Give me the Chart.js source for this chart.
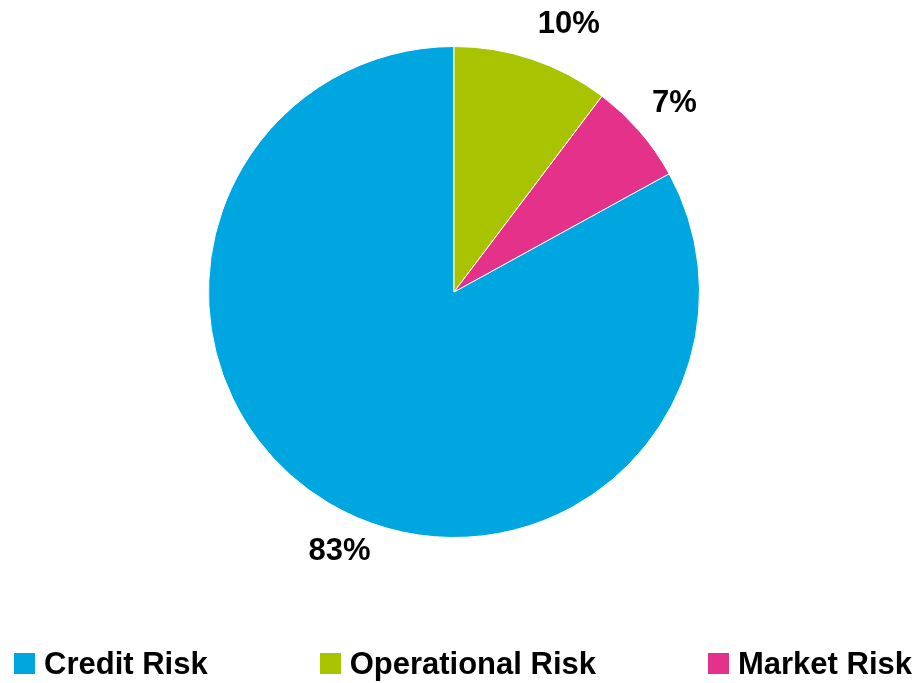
<!DOCTYPE html>
<html>
<head>
<meta charset="utf-8">
<script src="https://cdn.jsdelivr.net/npm/chart.js@4"></script>
<style>
  html, body { margin:0; padding:0; background:#fff; }
  #wrap { position:relative; width:919px; height:683px; overflow:hidden; }
  #c { position:absolute; left:0; top:0; }
  .lbl { position:absolute; font: bold 31px "Liberation Sans", Arial, sans-serif; color:#000; white-space:nowrap; transform:translate(-50%,-50%); line-height:1; }
  #legend { position:absolute; left:14px; right:7px; top:647px; height:32px; display:flex; justify-content:space-between; align-items:center; }
  .li { display:flex; align-items:center; font: bold 31px "Liberation Sans", Arial, sans-serif; color:#000; white-space:nowrap; line-height:1; }
  .sw { width:21px; height:21px; margin-right:9px; }
</style>
</head>
<body>
<div id="wrap">
  <canvas id="c" width="919" height="683"></canvas>
  <div id="legend"></div>
</div>
<script>
const categories = ["Credit Risk", "Operational Risk", "Market Risk"];
const shares = [83.0, 10.3, 6.7];
const valueLabels = ["83%", "10%", "7%"];
const colors = ["#00A6DF", "#A8C400", "#E4318A"];

const total = shares.reduce((a, b) => a + b, 0);
const rotation = (total - shares[0]) / total * 360;

const chart = new Chart(document.getElementById('c'), {
  type: 'pie',
  data: {
    labels: categories,
    datasets: [{
      data: shares,
      backgroundColor: colors,
      borderColor: '#ffffff',
      borderWidth: 1
    }]
  },
  options: {
    responsive: false,
    animation: false,
    rotation: rotation,
    layout: { padding: { top: 46, bottom: 145, left: 0, right: 11 } },
    plugins: { legend: { display: false }, tooltip: { enabled: false } }
  }
});

// Legend (HTML text)
const legend = document.getElementById('legend');
categories.forEach((name, i) => {
  const item = document.createElement('div');
  item.className = 'li';
  const sw = document.createElement('span');
  sw.className = 'sw';
  sw.style.background = colors[i];
  item.appendChild(sw);
  item.appendChild(document.createTextNode(name));
  legend.appendChild(item);
});

// Value labels placed from the library's arc geometry
const wrap = document.getElementById('wrap');
const nudge = [-6.6, 4.5, 0];
const extra = [36, 48, 46];
const arcs = chart.getDatasetMeta(0).data;
arcs.forEach((arc, i) => {
  const p = arc.getProps(['x', 'y', 'startAngle', 'endAngle', 'outerRadius'], true);
  const mid = (p.startAngle + p.endAngle) / 2 + nudge[i] * Math.PI / 180;
  const r = p.outerRadius + extra[i];
  const d = document.createElement('div');
  d.className = 'lbl';
  d.textContent = valueLabels[i];
  d.style.left = (p.x + Math.cos(mid) * r) + 'px';
  d.style.top = (p.y + Math.sin(mid) * r) + 'px';
  wrap.appendChild(d);
});
</script>
</body>
</html>
